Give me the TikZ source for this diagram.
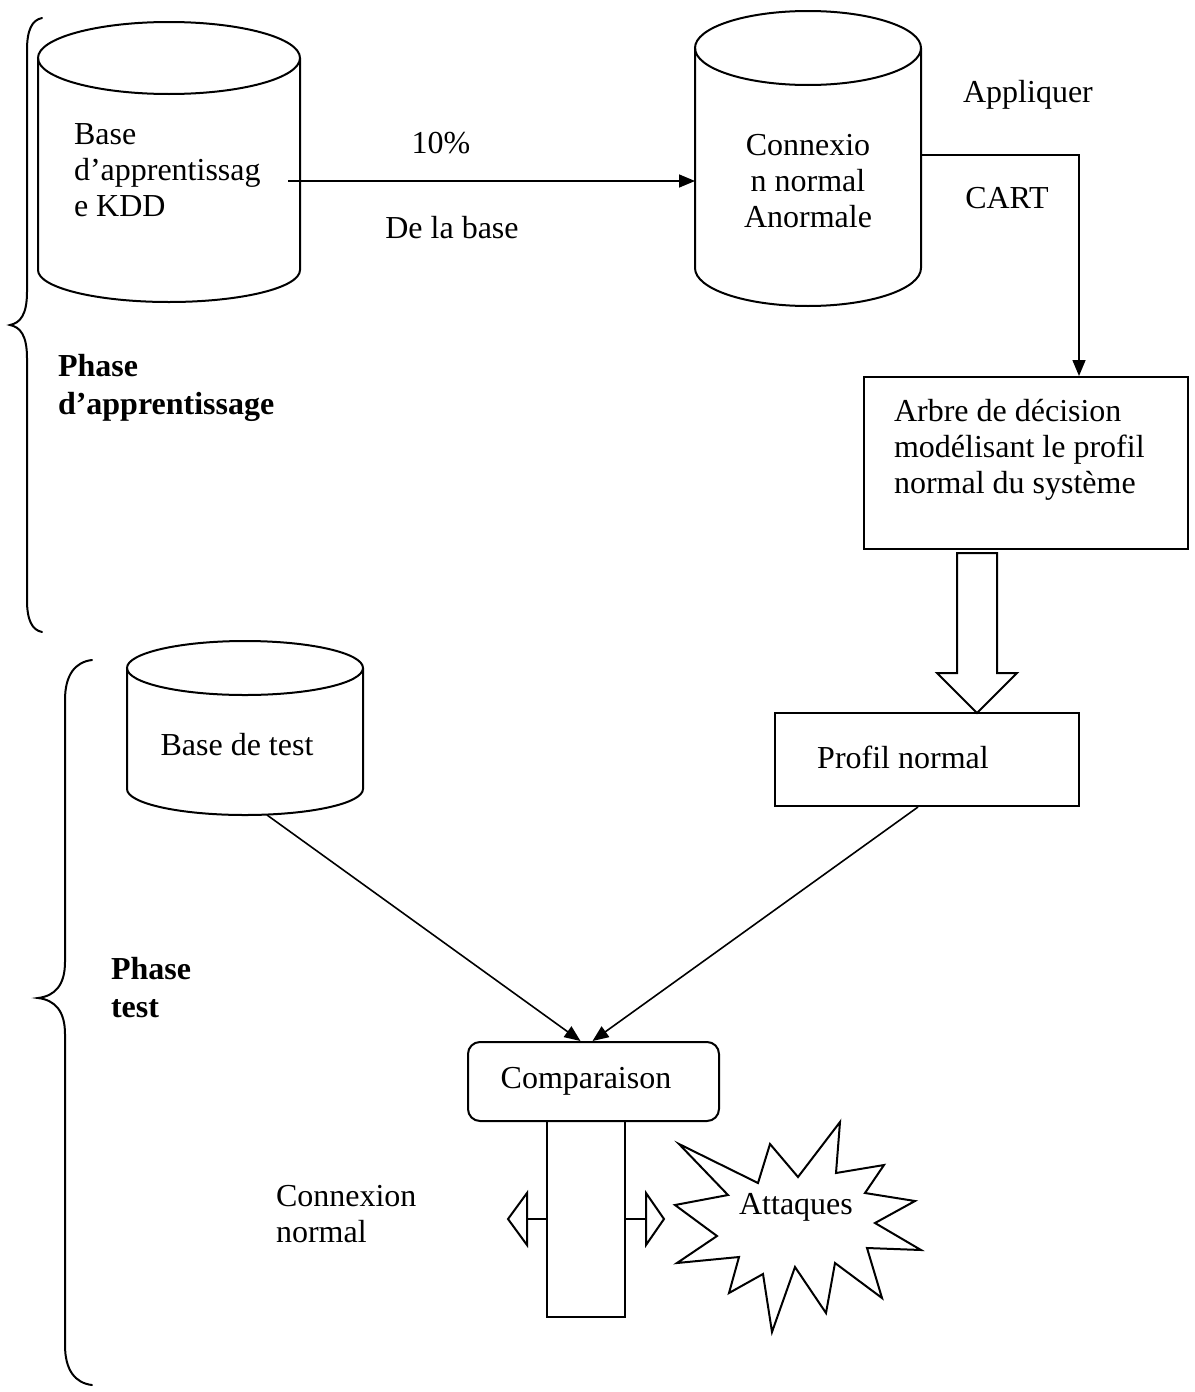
\documentclass[tikz,border=0pt]{standalone}
\usepackage{fontspec}
\setmainfont{Liberation Serif}
\usetikzlibrary{arrows.meta,calc}
\begin{document}
\begin{tikzpicture}[x=1pt,y=-1pt,line width=2pt,
  txt/.style={font=\fontsize{32}{36}\selectfont,inner sep=0pt,align=left},
  ctxt/.style={txt,align=center},
  btxt/.style={font=\fontsize{32}{38}\selectfont\bfseries,inner sep=0pt,align=left},
  conn/.style={line width=1.6pt,-{Triangle[length=16pt,width=13pt]}},
  boxed/.style={draw,line width=2pt,inner sep=0pt},
  body/.style={inner sep=0pt,outer sep=0pt},
  brace/.style={line width=2pt,line cap=round}]
\useasboundingbox (0,0) rectangle (1194,1392);

% --- learning phase ---------------------------------------------------
% training database cylinder
\draw (169,58) ellipse [x radius=131pt,y radius=36pt];
\draw (38,58) -- (38,270) arc[start angle=180,end angle=360,x radius=131pt,y radius=32pt] -- (300,58);
\node[body,minimum width=262pt,minimum height=212pt] (kdd) at (169,164) {};
\node[txt,anchor=west] (kddtxt) at (73,170) {Base\\d’apprentissag\\e KDD};

% labelled connections cylinder
\draw (808,48) ellipse [x radius=113pt,y radius=37pt];
\draw (695,48) -- (695,268) arc[start angle=180,end angle=360,x radius=113pt,y radius=38pt] -- (921,48);
\node[body,minimum width=226pt,minimum height=220pt] (cnx) at (808,158) {};
\node[ctxt] (cnxtxt) at (808,181) {Connexio\\n normal\\Anormale};

% 10 % sample arrow
\coordinate (kddout) at (288,181);
\draw[conn] (kddout) -- (kddout -| cnx.west);
\node[txt] (pct) at (441,143) {10\%};
\node[txt] (dela) at (452,228) {De la base};

% decision tree box
\node[boxed,minimum width=324pt,minimum height=172pt] (arbre) at (1026,463) {};
\node[txt,anchor=north west] (arbretxt) at (893,398) {Arbre de décision\\modélisant le profil\\normal du système};

% CART elbow
\coordinate (bend) at (1079,155);
\draw[conn] (bend -| cnx.east) -- (bend) -- (bend |- arbre.north);
\node[txt] (appl) at (1028,95) {Appliquer};
\node[txt] (cart) at (1007,198) {CART};

% hollow block arrow to the normal profile
\draw (957,553) -- (957,673) -- (937,673) -- (977,713) -- (1017,673) -- (997,673) -- (997,553) -- cycle;

% normal profile box
\node[boxed,minimum width=304pt,minimum height=93pt] (profil) at (927,759.5) {};
\node[txt] (profiltxt) at (903,757) {Profil normal};

% --- test phase ---------------------------------------------------------
% test database cylinder
\draw (245,668) ellipse [x radius=118pt,y radius=27pt];
\draw (127,668) -- (127,789) arc[start angle=180,end angle=360,x radius=118pt,y radius=26pt] -- (363,668);
\node[body,minimum width=236pt,minimum height=121pt] (test) at (245,728) {};
\node[txt] (testtxt) at (237,745) {Base de test};

% comparison
\node[boxed,rounded corners=12pt,minimum width=251pt,minimum height=79pt] (cmp) at (593.5,1081.5) {};
\node[txt] (cmptxt) at (586,1081) {Comparaison};
\coordinate (testout) at (267,815);
\draw[conn] (testout) -- ([xshift=-13pt]cmp.north);
\draw[conn] (profil.south -| 918,0) -- ([xshift=-1pt]cmp.north);

% outcome stem with two hollow pointers
\node[boxed,minimum width=78pt,minimum height=196pt] (stem) at (586,1219) {};
\draw (stem.west) -- (527,1219);
\draw (527,1193) -- (508,1219) -- (527,1245) -- cycle;
\draw (stem.east) -- (646,1219);
\draw (646,1193) -- (664,1219) -- (646,1245) -- cycle;
\node[txt,anchor=west] (normtxt) at (275,1214) {Connexion\\normal};

% attacks burst
\draw[line join=miter] (679,1144) -- (728,1195) -- (675,1205) -- (717,1236) -- (677,1263)
  -- (739,1257) -- (729,1293) -- (763,1274) -- (772,1332) -- (795,1267) -- (826,1313)
  -- (835,1263) -- (882,1298) -- (867,1248) -- (921,1250) -- (875,1223) -- (915,1201)
  -- (865,1193) -- (884,1165) -- (836,1173) -- (840,1122) -- (798,1177) -- (770,1144)
  -- (758,1183) -- cycle;
\node[txt] (att) at (796,1207) {Attaques};

% --- phase braces and labels -----------------------------------------
\draw[brace] (42,18) .. controls (32,20) and (27,30) .. (27,50) -- (27,292)
  .. controls (27,315) and (20,323) .. (10,325)
  .. controls (20,327) and (27,335) .. (27,358) -- (27,600)
  .. controls (27,620) and (32,630) .. (42,632);
\node[btxt,anchor=west] (phase1) at (57,388) {Phase\\d’apprentissage};

\draw[brace] (92,660) .. controls (75,662) and (65,675) .. (65,700) -- (65,962)
  .. controls (65,985) and (55,996) .. (38,998)
  .. controls (55,1000) and (65,1011) .. (65,1034) -- (65,1345)
  .. controls (65,1370) and (75,1383) .. (92,1385);
\node[btxt,anchor=west] (phase2) at (110,988) {Phase\\test};
\end{tikzpicture}
\end{document}
